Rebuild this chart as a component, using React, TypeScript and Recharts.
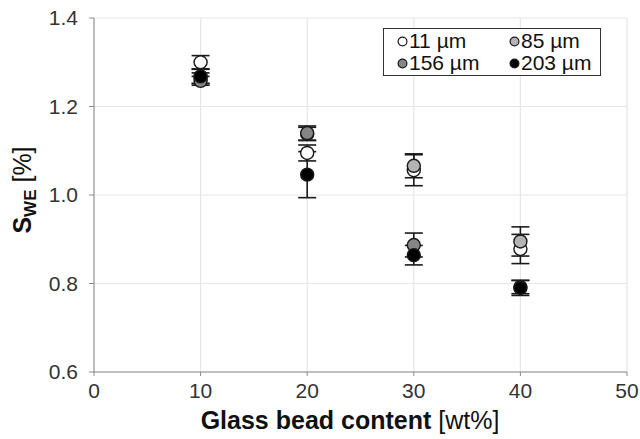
import React from "react"
import {
  CartesianGrid,
  ErrorBar,
  Label,
  Scatter,
  ScatterChart,
  XAxis,
  YAxis,
} from "recharts"

document.body.style.margin = "0"

const content = [10, 20, 30, 40]

const s11 = [1.3, 1.095, 1.056, 0.878]
const s11Err = [0.015, 0.018, 0.035, 0.033]

const s85 = [1.264, 1.138, 1.066, 0.895]
const s85Err = [0.012, 0.015, 0.027, 0.033]

const s156 = [1.258, 1.14, 0.887, 0.792]
const s156Err = [0.01, 0.016, 0.027, 0.015]

const s203 = [1.268, 1.046, 0.864, 0.79]
const s203Err = [0.016, 0.052, 0.022, 0.017]

const xTicks = [0, 10, 20, 30, 40, 50]
const yTicks = [0.6, 0.8, 1.0, 1.2, 1.4]

const series = [
  { name: "11 µm", values: s11, errors: s11Err, fill: "#ffffff" },
  { name: "85 µm", values: s85, errors: s85Err, fill: "#b4b4b4" },
  { name: "156 µm", values: s156, errors: s156Err, fill: "#858585" },
  { name: "203 µm", values: s203, errors: s203Err, fill: "#000000" },
]

const toPoints = (values: number[], errors: number[]) =>
  content.map((x, i) => ({ x, y: values[i], err: errors[i] }))

const font = "'Liberation Sans', Arial, sans-serif"

const Dot = (fill: string) => (props: any) => (
  <circle
    cx={props.cx}
    cy={props.cy}
    r={6.5}
    fill={fill}
    stroke="#1a1a1a"
    strokeWidth={1.4}
  />
)

// legend box sits over the plot's upper right corner
const LegendBox = () => (
  <div
    style={{
      position: "absolute",
      left: 383,
      top: 28,
      border: "1.5px solid #333",
      background: "#fff",
      width: 218,
      height: 48,
      boxSizing: "border-box",
      display: "grid",
      gridTemplateColumns: "112px 100px",
      gridAutoRows: "22px",
      padding: "1px 0 0 13px",
      fontFamily: font,
      fontSize: 21,
      lineHeight: "22px",
      color: "#111",
      whiteSpace: "nowrap",
    }}
  >
    {series.map((s) => (
      <div key={s.name} style={{ display: "flex", alignItems: "center" }}>
        <svg width={11} height={11} style={{ marginRight: 1, flexShrink: 0 }}>
          <circle cx={5.5} cy={5.5} r={4.4} fill={s.fill} stroke="#1a1a1a" strokeWidth={1.2} />
        </svg>
        {s.name}
      </div>
    ))}
  </div>
)

export default function App() {
  return (
    <div style={{ position: "relative", width: 640, height: 439 }}>
      <ScatterChart
        width={640}
        height={439}
        margin={{ top: 18, right: 13, bottom: 0, left: 0 }}
        style={{ fontFamily: font }}
      >
        <CartesianGrid stroke="#e6e6e6" strokeWidth={1.2} />
        <XAxis
          type="number"
          dataKey="x"
          domain={[0, 50]}
          ticks={xTicks}
          height={67}
          stroke="#8a8a8a"
          tickSize={4}
          tick={{ fill: "#333", fontSize: 21, dy: 5 }}
        >
          <Label
            content={() => (
              <text x={350} y={429} textAnchor="middle" fontSize={25} fill="#111">
                <tspan fontWeight="bold">Glass bead content </tspan>
                <tspan>[wt%]</tspan>
              </text>
            )}
          />
        </XAxis>
        <YAxis
          type="number"
          dataKey="y"
          domain={[0.6, 1.4]}
          ticks={yTicks}
          width={94}
          stroke="#8a8a8a"
          tickSize={5}
          tickFormatter={(v: number) => v.toFixed(1)}
          tick={{ fill: "#333", fontSize: 21, dx: -9 }}
        >
          <Label
            content={() => (
              <text
                transform="translate(31 190) rotate(-90)"
                textAnchor="middle"
                fontSize={25}
                fill="#111"
              >
                <tspan fontWeight="bold">S</tspan>
                <tspan fontWeight="bold" fontSize={17} dy={5}>WE</tspan>
                <tspan dy={-5}> [%]</tspan>
              </text>
            )}
          />
        </YAxis>
        {series.map((s) => (
          <Scatter
            key={s.name}
            name={s.name}
            data={toPoints(s.values, s.errors)}
            shape={Dot(s.fill)}
            isAnimationActive={false}
          >
            <ErrorBar
              dataKey="err"
              direction="y"
              width={9}
              stroke="#1a1a1a"
              strokeWidth={1.6}
            />
          </Scatter>
        ))}
      </ScatterChart>
      <LegendBox />
    </div>
  )
}
